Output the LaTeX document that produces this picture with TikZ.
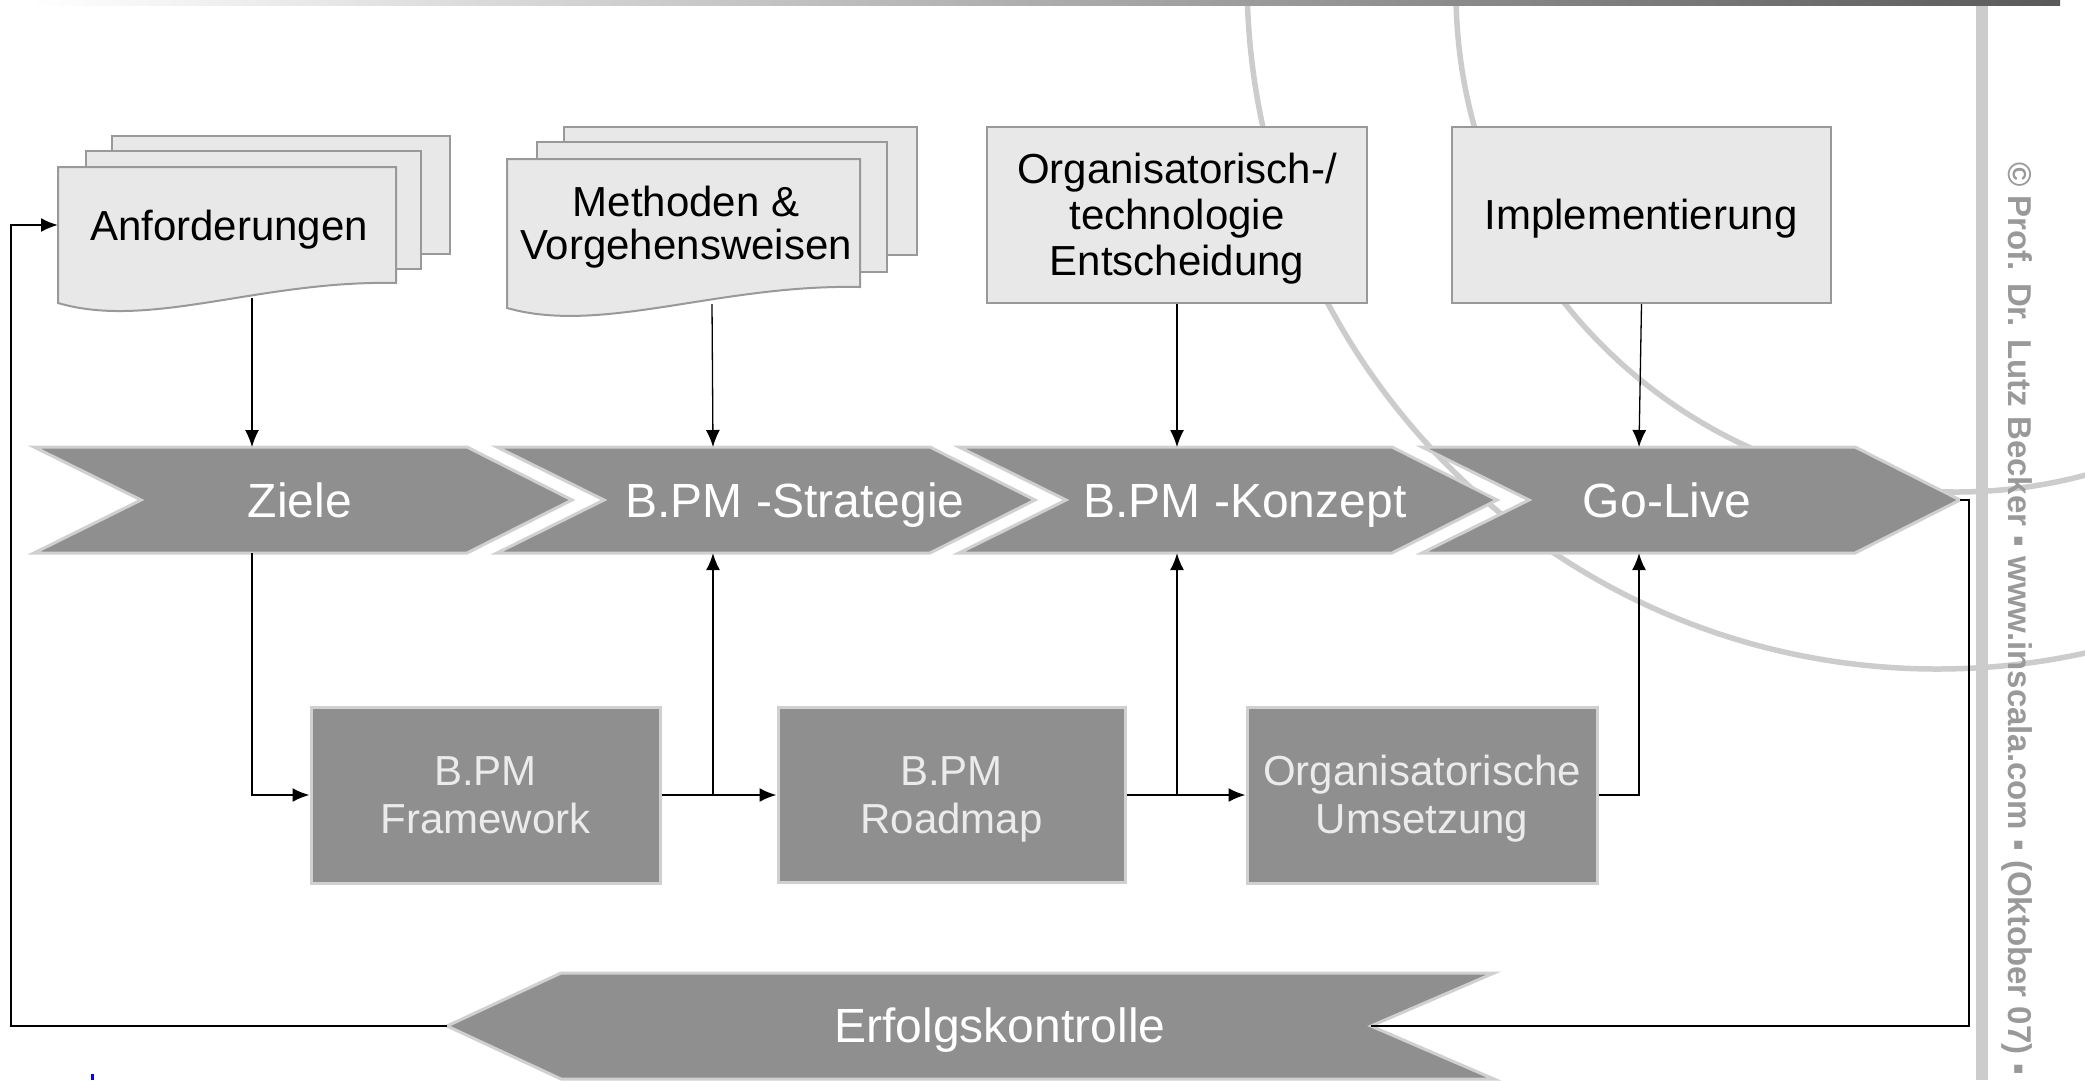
\documentclass[tikz,border=0pt]{standalone}
\usepackage{fontspec}
\setmainfont{Liberation Sans}
\usetikzlibrary{arrows.meta}
\definecolor{chevfill}{HTML}{8F8F8F}
\definecolor{chevline}{HTML}{D0D0D0}
\definecolor{pagefill}{HTML}{E8E8E8}
\definecolor{pageline}{HTML}{999999}
\definecolor{arcgray}{HTML}{CCCCCC}
\definecolor{lighttext}{HTML}{EBEBEB}
\definecolor{sidetext}{HTML}{999999}
\begin{document}
\begin{tikzpicture}[x=1pt,y=-1pt,
  chev/.style={fill=chevfill, draw=chevline, line width=3pt, line join=miter},
  docpage/.style={fill=pagefill, draw=pageline, line width=2pt},
  topbox/.style={rectangle, fill=pagefill, draw=pageline, line width=2pt, inner sep=0pt},
  lowbox/.style={rectangle, fill=chevfill, draw=chevline, line width=3pt, inner sep=0pt},
  blk/.style={font=\fontsize{42}{42}\selectfont, text=black, inner sep=0pt, anchor=base},
  wht/.style={font=\fontsize{48}{48}\selectfont, text=white, inner sep=0pt, anchor=base},
  lgt/.style={font=\fontsize{42}{48}\selectfont, text=lighttext, inner sep=0pt, anchor=base},
  conn/.style={draw=black, line width=2pt},
  fineline/.style={draw=black, line width=1.3pt},
  arr/.style={-{Latex[length=17pt,width=14pt]}},
]
\useasboundingbox (0,0) rectangle (2085,1080);
\fill[white] (0,0) rectangle (2085,1080);

% background arcs
\begin{scope}
  \clip (0,0) rectangle (2085,1080);
  \draw[arcgray, line width=5.5pt] (1937,-21) circle[radius=690pt];
  \draw[arcgray, line width=5.5pt] (1956,-8) circle[radius=500pt];
\end{scope}

% top gradient bar and side bar
\shade[left color=white, middle color=black!22, right color=black!65] (30,0) rectangle (2060,5.5);
\fill[arcgray] (1976,5.5) rectangle (1988,1080);

% side text
\node[rotate=-90, anchor=base west, text=sidetext, font=\fontsize{33}{33}\selectfont\bfseries, inner sep=0pt] (copy) at (2008,162)
  {© Prof. Dr. Lutz Becker ▪ www.inscala.com ▪ (Oktober 07) ▪};

% document stacks
\draw[docpage] (112,136) rectangle (450,254);
\draw[docpage] (86,151) rectangle (421,269);
\draw[docpage] (58,167) -- (396,167) -- (396,283) .. controls (260,280) and (150,330) .. (58,303) -- cycle;
\draw[docpage] (564,127) rectangle (917,255);
\draw[docpage] (537,142) rectangle (887,272);
\draw[docpage] (507,159) -- (860,159) -- (860,287) .. controls (719,284) and (602,335) .. (507,308) -- cycle;

% top boxes
\node[topbox, minimum width=380pt, minimum height=176pt] (org) at (1177,215) {};
\node[topbox, minimum width=379pt, minimum height=176pt] (impl) at (1641.5,215) {};

% chevrons
\foreach \x in {34,497,959,1422}
  \draw[chev] (\x,447) -- ++(433,0) -- ++(105,53) -- ++(-105,53) -- ++(-433,0) -- ++(107,-53) -- cycle;
\draw[chev] (447,1026) -- (561,973) -- (1494,973) -- (1371,1026) -- (1494,1079) -- (561,1079) -- cycle;

% lower boxes
\node[lowbox, minimum width=349pt, minimum height=176pt] (fw) at (485.5,795) {};
\node[lowbox, minimum width=347pt, minimum height=175pt] (rm) at (951.5,795) {};
\node[lowbox, minimum width=350pt, minimum height=176pt] (ou) at (1422,795) {};

% texts
\node[blk] (anf) at (229,240) {Anforderungen};
\node[blk] (meth) at (686,216) {\begin{tabular}[t]{@{}c@{}}Methoden \&\\Vorgehensweisen\end{tabular}};
\node[blk, font=\fontsize{42}{46}\selectfont] (orgtext) at (1177,183) {\begin{tabular}[t]{@{}c@{}}Organisatorisch-/\\technologie\\Entscheidung\end{tabular}};
\node[blk] (impltext) at (1641,229) {Implementierung};
\node[wht] (ziele) at (300,517) {Ziele};
\node[wht] (strat) at (795,517) {B.PM -Strategie};
\node[wht] (konz) at (1245,517) {B.PM -Konzept};
\node[wht] (golive) at (1667,517) {Go-Live};
\node[wht] (erfolg) at (1000,1042) {Erfolgskontrolle};
\node[lgt] (fwtext) at (485.5,785) {\begin{tabular}[t]{@{}c@{}}B.PM\\Framework\end{tabular}};
\node[lgt] (rmtext) at (951.5,785) {\begin{tabular}[t]{@{}c@{}}B.PM\\Roadmap\end{tabular}};
\node[lgt] (outext) at (1422,785) {\begin{tabular}[t]{@{}c@{}}Organisatorische\\Umsetzung\end{tabular}};

% connector points
\coordinate (anf-out) at (252,298);
\coordinate (meth-out) at (712,304);
\coordinate (z-top) at (252,447);  \coordinate (z-bot) at (252,553);
\coordinate (s-top) at (713,447);  \coordinate (s-bot) at (713,553);
\coordinate (k-top) at (1177,447); \coordinate (k-bot) at (1177,553);
\coordinate (g-top) at (1639,447); \coordinate (g-bot) at (1639,553);
\coordinate (g-tip) at (1960,500);
\coordinate (e-notch) at (1371,1026);
\coordinate (e-tip) at (447,1026);
\coordinate (loop-bl) at (11,1026);
\coordinate (loop-tl) at (11,225);
\coordinate (anf-in) at (58,225);

% connectors
\draw[fineline, arr] (anf-out) -- (z-top);
\draw[fineline, arr] (meth-out) -- (s-top);
\draw[fineline, arr] (org.south) -- (k-top);
\draw[fineline, arr] (impl.south) -- (g-top);
\draw[conn, arr] (z-bot) |- (fw.west);
\draw[conn, arr] (fw.east) -- (rm.west);
\draw[conn, arr] (fw.east -| s-bot) -- (s-bot);
\draw[conn, arr] (rm.east) -- (ou.west);
\draw[conn, arr] (rm.east -| k-bot) -- (k-bot);
\draw[conn, arr] (ou.east) -| (g-bot);
\draw[conn] (g-tip) -- ++(9,0) |- (e-notch);
\draw[conn, arr] (e-tip) -- (loop-bl) -- (loop-tl) -- (anf-in);

% small blue mark
\draw[blue, line width=3pt] (92,1074) -- (92,1080);
\end{tikzpicture}
\end{document}
